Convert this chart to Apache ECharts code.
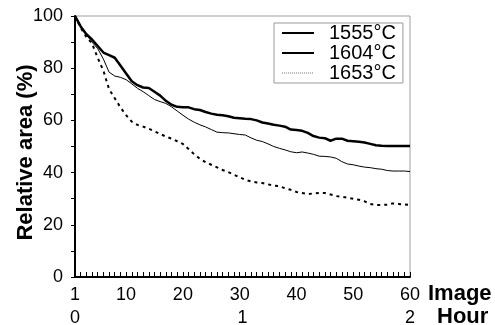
<!DOCTYPE html>
<html>
<head>
<meta charset="utf-8">
<script src="https://cdn.jsdelivr.net/npm/echarts@6/dist/echarts.min.js"></script>
<style>html,body{margin:0;padding:0;background:#fff}#c{width:495px;height:325px}</style>
</head>
<body>
<div id="c"></div>
<script>
const images = [1,2,3,4,5,6,7,8,9,10,11,12,13,14,15,16,17,18,19,20,21,22,23,24,25,26,27,28,29,30,31,32,33,34,35,36,37,38,39,40,41,42,43,44,45,46,47,48,49,50,51,52,53,54,55,56,57,58,59,60];
const seriesNames = ['1555°C','1604°C','1653°C'];
const s1555 = [100,96,93,91,88.5,86,85,84,81,78,75,73.5,72.6,72.4,71,69.5,67.5,66,65.2,65,65,64.3,64,63.2,62.6,62.2,62,61.6,61,60.8,60.6,60.5,60,59.2,58.8,58.3,58,57.6,56.5,56.3,56,55.2,54,53.4,53.2,52.2,53,53,52.2,52,51.8,51.5,51,50.5,50.3,50.2,50.2,50.2,50.2,50.2];
const s1604 = [100,96,93,90,87.5,83.5,78.5,77,76.5,75.6,74,72.3,71,69.5,68,67.2,66.5,65.2,63.6,62,60.5,59.3,58.3,57.5,56.5,55.5,55.3,55.2,54.9,54.6,54.4,53.3,52.4,51.9,51,50,49.3,48.7,48,47.6,47.9,47.5,47,46.3,46.2,46,45.5,44.2,43.3,43,42.5,42.1,41.9,41.5,41.3,40.8,40.6,40.6,40.6,40.4];
const s1653 = [100,95.5,92,89.5,84,79,72,68.5,65,62,59.5,58.3,57.6,56.8,55.8,54.8,53.8,53,52,51,49,47,45.3,44,43,42,41,40.2,39.2,38.2,37.2,36.6,36.2,36,35.5,35,34.8,34,33.4,32.6,32.2,31.8,32,32.2,32.2,31.6,31,30.7,30.4,30,29.6,29,28,27.6,27.6,27.7,28.2,28,27.8,27.6];
const imageLabels = [1,10,20,30,40,50,60];
const hourLabels = [0,1,2];
const yTicks = [0,20,40,60,80,100];

const FONT = '"Liberation Sans", Arial, sans-serif';
const pair = arr => arr.map((v,i)=>[images[i], v]);

const chart = echarts.init(document.getElementById('c'), null, {renderer:'canvas'});
chart.setOption({
  animation:false,
  backgroundColor:'#fff',
  textStyle:{fontFamily:FONT},
  grid:{left:75,right:85,top:16,bottom:48,show:true,borderColor:'#a0a0a0',borderWidth:1,
        containLabel:false, outerBoundsMode:'none'},
  legend:{
    orient:'vertical', left:274, top:23,
    backgroundColor:'#fff', borderColor:'#999', borderWidth:1,
    padding:[0,7,0,7], itemWidth:32, itemHeight:10, itemGap:0,
    itemStyle:{opacity:0, color:'rgba(0,0,0,0)', borderWidth:0},
    textStyle:{fontFamily:FONT,fontSize:20,color:'#000',padding:[0,0,0,10]},
    data:[
      {name:seriesNames[0]},
      {name:seriesNames[1]},
      {name:seriesNames[2], lineStyle:{type:'dotted',width:1,color:'#777'}}
    ]
  },
  xAxis:[
    {type:'value', min:1, max:60, position:'bottom',
     name:'Image', nameLocation:'end', nameGap:18, nameMoveOverlap:false,
     nameTextStyle:{fontFamily:FONT,fontSize:22,fontWeight:'bold',color:'#000',verticalAlign:'top',padding:[6,0,0,0]},
     axisLine:{show:true,lineStyle:{color:'#000',width:2}},
     axisTick:{show:true,inside:true,length:5,customValues:images,lineStyle:{color:'#000',width:1}},
     axisLabel:{customValues:imageLabels,fontFamily:FONT,fontSize:18,color:'#000',margin:9},
     splitLine:{show:false}},
    {type:'value', min:0, max:2, interval:1, position:'bottom', offset:23,
     name:'Hour', nameLocation:'end', nameGap:27, nameMoveOverlap:false,
     nameTextStyle:{fontFamily:FONT,fontSize:22,fontWeight:'bold',color:'#000',verticalAlign:'top',padding:[6,0,0,0]},
     axisLine:{show:false}, axisTick:{show:false},
     axisLabel:{customValues:hourLabels,fontFamily:FONT,fontSize:18,color:'#000',margin:9,showMinLabel:true,showMaxLabel:true},
     splitLine:{show:false}}
  ],
  yAxis:{type:'value', min:0, max:100, interval:10,
    name:'Relative area (%)', nameLocation:'middle', nameGap:38, nameMoveOverlap:false,
    nameTextStyle:{fontFamily:FONT,fontSize:22,fontWeight:'bold',color:'#000',padding:[0,12,0,0]},
    axisLine:{show:true,lineStyle:{color:'#000',width:2}},
    axisTick:{show:true,inside:false,length:4,lineStyle:{color:'#000',width:1}},
    axisLabel:{fontFamily:FONT,fontSize:18,color:'#000',margin:12,
      formatter:v=> yTicks.indexOf(v)>=0 ? String(v) : ''},
    splitLine:{show:false}},
  series:[
    {name:seriesNames[0], type:'line', xAxisIndex:0, data:pair(s1555), symbol:'none',
     lineStyle:{color:'#000',width:2.5}, itemStyle:{color:'#000'}},
    {name:seriesNames[1], type:'line', xAxisIndex:0, data:pair(s1604), symbol:'none',
     lineStyle:{color:'#000',width:1}, itemStyle:{color:'#000'}},
    {name:seriesNames[2], type:'line', xAxisIndex:0, data:pair(s1653), symbol:'none',
     lineStyle:{color:'#000',width:2,type:[3,4]}, itemStyle:{color:'#000'}}
  ]
});
</script>
</body>
</html>
